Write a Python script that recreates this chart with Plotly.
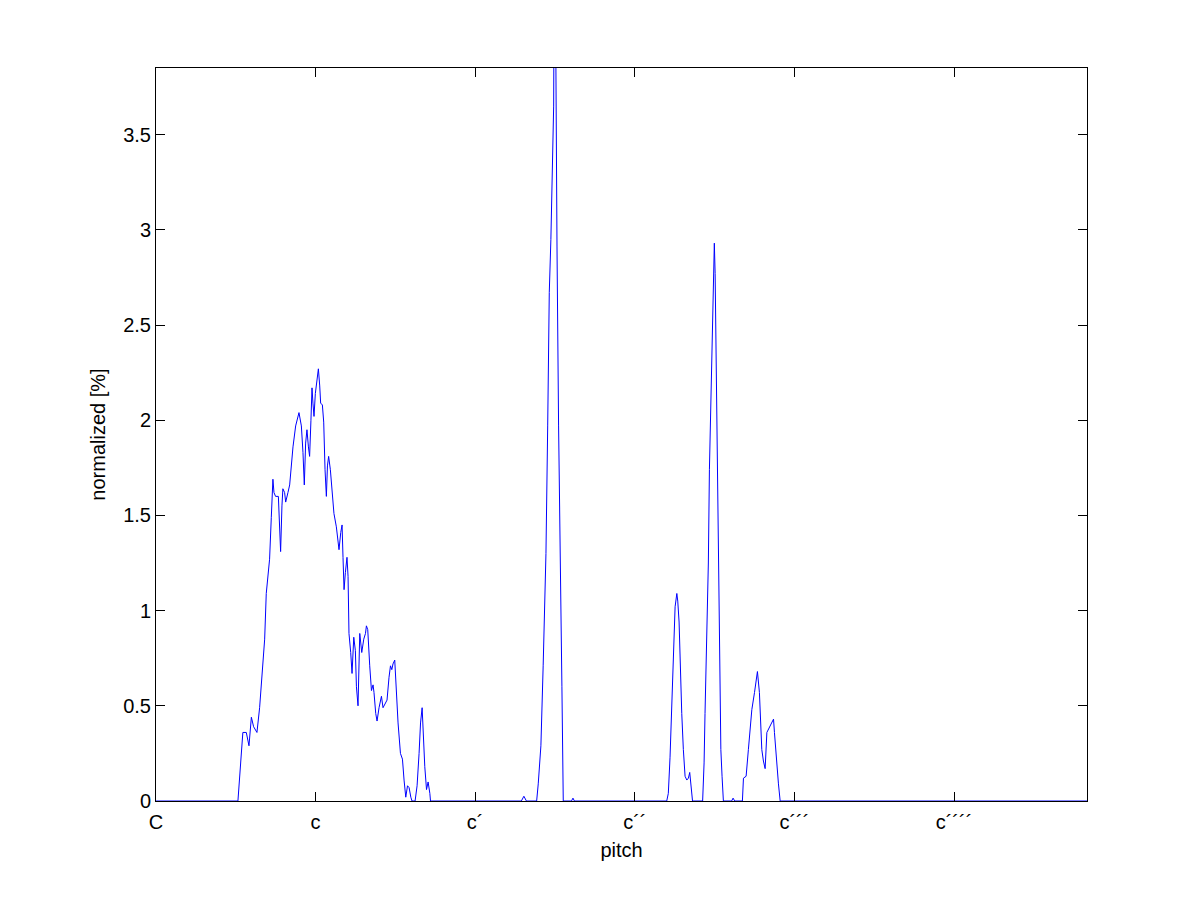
import plotly.graph_objects as go

# pitch in semitones above C (C = 0, c = 12, c' = 24, ...), value in normalized %
pitch = [
    0.0,
    6.16, 6.53, 6.79, 6.99, 7.17, 7.34, 7.59, 7.79, 8.04, 8.17, 8.29, 8.54, 8.67, 8.79, 8.87,
    8.99, 9.20, 9.30, 9.37, 9.47, 9.54, 9.67, 9.75, 9.92, 10.05, 10.30, 10.50, 10.75, 10.93,
    11.05, 11.15, 11.25, 11.35, 11.46, 11.55, 11.65, 11.73, 11.80, 11.88, 11.98, 12.10, 12.21,
    12.31, 12.38, 12.51, 12.61, 12.71, 12.81, 12.89, 12.98, 13.11, 13.26, 13.38, 13.56, 13.68,
    13.76, 13.89, 13.99, 14.06, 14.14, 14.24, 14.36, 14.44, 14.51, 14.64, 14.74, 14.87, 14.99,
    15.07, 15.19, 15.32, 15.47, 15.62, 15.75, 15.82, 15.92, 16.07, 16.20, 16.32, 16.39, 16.52,
    16.62, 16.77, 16.95, 17.07, 17.22, 17.37, 17.52, 17.63, 17.73, 17.82, 17.95, 18.08, 18.20,
    18.38, 18.53, 18.65, 18.78, 18.91, 19.03, 19.16, 19.25, 19.48, 19.63, 19.78, 19.89, 20.01,
    20.08, 20.21, 20.34, 20.46, 20.59, 20.64,
    27.47, 27.66, 27.85,
    28.62, 28.74, 28.94, 29.11, 29.22, 29.32, 29.45, 29.57, 29.69, 29.82, 29.90, 29.97, 30.05,
    30.15, 30.27, 30.37, 30.45, 30.52, 30.62,
    31.24, 31.35, 31.46,
    38.40, 38.52, 38.65, 38.78, 38.90, 39.03, 39.16, 39.23, 39.33, 39.43, 39.53, 39.65, 39.78,
    39.91, 40.03, 40.13, 40.21, 40.34,
    41.10, 41.21, 41.28, 41.38, 41.46, 41.53, 41.61, 41.68, 41.76, 41.83, 41.91, 41.98, 42.04,
    42.09, 42.14, 42.19, 42.24, 42.32, 42.39, 42.47, 42.56, 42.66,
    43.28, 43.39, 43.51,
    44.09, 44.17, 44.37, 44.54, 44.80, 45.00, 45.22, 45.37, 45.55, 45.67, 45.80, 45.93, 46.13,
    46.31, 46.43, 46.50, 46.68, 46.80, 46.93,
    70.0,
]
normalized = [
    0.0,
    0.0, 0.36, 0.36, 0.29, 0.44, 0.39, 0.36, 0.49, 0.74, 0.85, 1.09, 1.27, 1.49, 1.69, 1.62,
    1.60, 1.60, 1.44, 1.31, 1.55, 1.64, 1.62, 1.57, 1.62, 1.66, 1.86, 1.97, 2.04, 1.97,
    1.83, 1.66, 1.88, 1.95, 1.86, 1.81, 2.00, 2.17, 2.09, 2.02, 2.14, 2.20, 2.27,
    2.18, 2.09, 2.08, 1.99, 1.74, 1.60, 1.76, 1.81, 1.74, 1.62, 1.51, 1.44, 1.36,
    1.32, 1.41, 1.45, 1.28, 1.11, 1.20, 1.28, 1.18, 0.88, 0.78, 0.67, 0.86, 0.79,
    0.60, 0.50, 0.88, 0.78, 0.85, 0.88, 0.92, 0.90, 0.71, 0.58, 0.61, 0.57, 0.46,
    0.42, 0.49, 0.55, 0.49, 0.51, 0.53, 0.65, 0.71, 0.69, 0.72, 0.74, 0.57, 0.41,
    0.25, 0.22, 0.11, 0.02, 0.08, 0.07, 0.02, 0.0, 0.0, 0.08, 0.25, 0.41, 0.49,
    0.34, 0.18, 0.06, 0.10, 0.04, 0.0,
    0.0, 0.025, 0.0,
    0.0, 0.09, 0.29, 0.71, 1.02, 1.30, 1.97, 2.67, 2.95, 3.44, 3.65, 5.0, 3.65,
    2.91, 1.97, 1.51, 1.16, 0.60, 0.0,
    0.0, 0.015, 0.0,
    0.0, 0.04, 0.23, 0.51, 0.83, 1.02, 1.09, 1.05, 0.94, 0.67, 0.46, 0.27, 0.13,
    0.11, 0.12, 0.15, 0.09, 0.0,
    0.0, 0.20, 0.46, 0.74, 0.99, 1.25, 1.74, 1.99, 2.26, 2.47, 2.77, 2.93, 2.77,
    2.47, 2.26, 1.91, 1.46, 0.86, 0.58, 0.27, 0.13, 0.0,
    0.0, 0.015, 0.0,
    0.0, 0.12, 0.13, 0.27, 0.48, 0.57, 0.68, 0.57, 0.27, 0.21, 0.17, 0.36, 0.39,
    0.42, 0.43, 0.36, 0.18, 0.09, 0.0,
    0.0,
]

tick_vals = [0, 12, 24, 36, 48, 60]
tick_text = ["C", "c", "c\u00b4", "c\u00b4\u00b4", "c\u00b4\u00b4\u00b4", "c\u00b4\u00b4\u00b4\u00b4"]
y_ticks = [0, 0.5, 1, 1.5, 2, 2.5, 3, 3.5]

fig = go.Figure()
fig.add_trace(go.Scatter(
    x=pitch, y=normalized, mode="lines",
    line=dict(color="#0000ff", width=1),
    hoverinfo="skip", showlegend=False,
))

font = dict(family="Liberation Sans, Arial, Helvetica, sans-serif", size=20, color="black")

fig.update_layout(
    width=1201, height=901,
    margin=dict(l=156, r=114, t=68, b=100, pad=0),
    paper_bgcolor="white", plot_bgcolor="white",
    font=font,
    xaxis=dict(
        range=[0, 70], tickmode="array", tickvals=tick_vals, ticktext=tick_text,
        showgrid=False, zeroline=False, showline=True, linecolor="black", linewidth=1,
        mirror="ticks", ticks="inside", ticklen=9, tickcolor="black", tickwidth=1,
        ticklabelstandoff=3,
        title=dict(text="pitch", standoff=10, font=font),
        tickfont=font,
    ),
    yaxis=dict(
        range=[0, 3.85], tickmode="array", tickvals=y_ticks,
        showgrid=False, zeroline=False, showline=True, linecolor="black", linewidth=1,
        mirror="ticks", ticks="inside", ticklen=9, tickcolor="black", tickwidth=1,
        title=dict(text="normalized [%]", standoff=12, font=font),
        tickfont=font,
    ),
)

fig.write_html("out.html", config={"displayModeBar": False},
               post_script="document.body.style.margin='0';")
